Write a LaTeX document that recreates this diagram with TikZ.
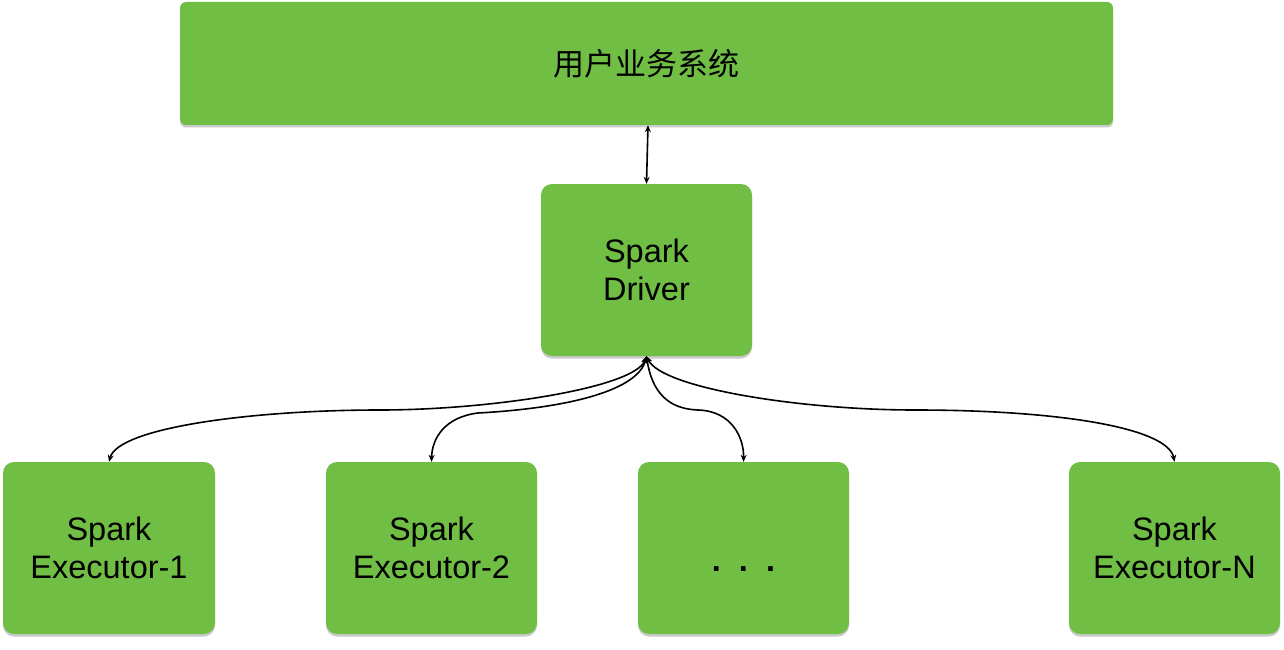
\documentclass[tikz,border=0pt]{standalone}
\usepackage{fontspec}
\setmainfont{Liberation Sans}
\newfontfamily\cjk{Noto Sans CJK SC}
\usetikzlibrary{arrows.meta,shadows}
\definecolor{boxgreen}{RGB}{112,191,68}
\tikzset{
  box/.style={fill=boxgreen, draw=none, rounded corners=11pt, align=center,
    font=\fontsize{32.5}{38}\selectfont, text=black,
    drop shadow={shadow xshift=0pt, shadow yshift=-2.5pt, opacity=0.35, fill=black!60}},
  link/.style={line width=1.6pt, {Stealth[length=7pt,width=6pt]}-{Stealth[length=7pt,width=6pt]}}
}
\begin{document}
\begin{tikzpicture}[x=1pt,y=-1pt]
\useasboundingbox (0,0) rectangle (1284,650);
\node[box, rounded corners=6pt, minimum width=933pt, minimum height=123pt] (top) at (646.5,63.5) {\cjk\fontsize{31}{36}\selectfont 用户业务系统};
\node[box, minimum width=211pt, minimum height=172pt] (drv) at (646.5,270) {Spark\\Driver};
\node[box, minimum width=212pt, minimum height=172pt] (e1) at (109,548) {Spark\\Executor-1};
\node[box, minimum width=211pt, minimum height=172pt] (e2) at (431.5,548) {Spark\\Executor-2};
\node[box, minimum width=211pt, minimum height=172pt] (e3) at (743.5,548) {\mbox{}\\[8pt]{\bfseries .\hspace{18pt}.\hspace{18pt}.}};
\node[box, minimum width=211pt, minimum height=172pt] (e4) at (1174.5,548) {Spark\\Executor-N};
\coordinate (m1) at (380,410);
\coordinate (m2) at (478,413);
\coordinate (m3) at (698,410);
\coordinate (m4) at (915,410);
\draw[link] ([xshift=1.5pt]top.south) -- (drv.north);
\draw[link] (drv.south) .. controls (635,388) and (490,410) .. (m1) .. controls (250,410) and (118,428) .. (e1.north);
\draw[link] (drv.south) .. controls (638,390) and (570,408) .. (m2) .. controls (445,417) and (432,438) .. (e2.north);
\draw[link] (drv.south) .. controls (652,392) and (668,409) .. (m3) .. controls (732,411) and (744,438) .. (e3.north);
\draw[link] (drv.south) .. controls (662,388) and (800,410) .. (m4) .. controls (1060,410) and (1168,428) .. (e4.north);
\end{tikzpicture}
\end{document}
